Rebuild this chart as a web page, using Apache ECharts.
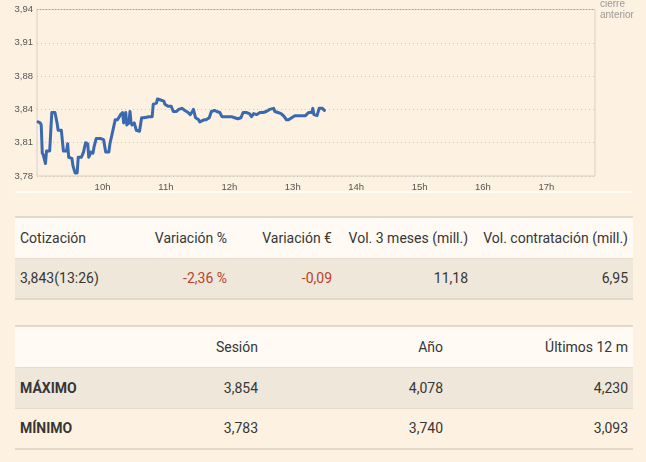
<!DOCTYPE html>
<html>
<head>
<meta charset="utf-8">
<script src="https://cdn.jsdelivr.net/npm/echarts@6/dist/echarts.min.js"></script>
<style>
  html, body { margin: 0; padding: 0; background: #fdf2e2; }
  body { width: 646px; height: 462px; position: relative; overflow: hidden;
         font-family: Roboto, "Noto Sans", sans-serif; color: #363636; }
  #chart { position: absolute; left: 0; top: 0; width: 646px; height: 196px; }
  .sep { position: absolute; left: 15px; top: 191px; width: 617px; height: 2px; background: #fffaf3; }
  table { position: absolute; left: 15px; width: 618px; border-collapse: collapse;
          table-layout: fixed; font-size: 14px; }
  td { height: 41px; padding: 0 5px; vertical-align: middle; white-space: nowrap; box-sizing: border-box; }
  tr.head td { background: #fffaf4; }
  tr.dark td { background: #efe7da; border-top: 1px solid #e6dccd; }
  tr.light td { background: #fdf2e2; border-top: 1px solid #e6dccd; }
  table { border-top: 2px solid #e2d9cc; border-bottom: 2px solid #e2d9cc; }
  .r { text-align: right; }
  .neg { color: #b5452b; }
  .b { font-weight: bold; }
</style>
</head>
<body>
<div id="chart"></div>
<div class="sep"></div>
<table id="t1" style="top:216px">
  <colgroup><col style="width:115px"><col style="width:102px"><col style="width:105px"><col style="width:136px"><col style="width:160px"></colgroup>
</table>
<table id="t2" style="top:325px">
  <colgroup><col style="width:120px"><col style="width:128px"><col style="width:185px"><col style="width:185px"></colgroup>
</table>
<script>
// intraday quotes (hh:mm, price)
var times = ['08:59','09:01','09:02','09:03','09:04','09:06','09:07','09:10','09:12','09:15',
  '09:17','09:18','09:21','09:23','09:26','09:27','09:28','09:31','09:32','09:34',
  '09:36','09:37','09:40','09:42','09:44','09:46','09:47','09:49','09:51','09:52',
  '09:54','09:58','10:01','10:03','10:06','10:07','10:09','10:10','10:12','10:14',
  '10:16','10:17','10:19','10:20','10:22','10:23','10:25','10:26','10:27','10:28',
  '10:30','10:32','10:35','10:37','10:39','10:44','10:47','10:48','10:51','10:52',
  '10:55','10:58','10:59','11:02','11:05','11:07','11:10','11:12','11:15','11:18',
  '11:21','11:23','11:25','11:26','11:28','11:31','11:32','11:34','11:36','11:38',
  '11:41','11:43','11:46','11:48','11:51','11:53','11:56','12:02','12:05','12:08',
  '12:11','12:13','12:16','12:19','12:21','12:23','12:26','12:29','12:32','12:35',
  '12:38','12:42','12:43','12:46','12:49','12:52','12:54','12:56','12:59','13:02',
  '13:07','13:12','13:15','13:18','13:19','13:20','13:23','13:24','13:25','13:28','13:30'];
var prices = [3.832,3.831,3.829,3.802,3.800,3.792,3.804,3.804,3.841,3.841,
  3.831,3.824,3.824,3.804,3.804,3.811,3.798,3.797,3.790,3.783,
  3.783,3.798,3.798,3.803,3.812,3.811,3.798,3.803,3.802,3.808,
  3.816,3.816,3.815,3.803,3.803,3.811,3.820,3.821,3.834,3.834,
  3.837,3.839,3.841,3.831,3.841,3.829,3.831,3.842,3.831,3.829,
  3.831,3.824,3.823,3.836,3.836,3.837,3.837,3.849,3.850,3.854,
  3.853,3.852,3.849,3.847,3.847,3.842,3.842,3.844,3.845,3.843,
  3.841,3.839,3.842,3.844,3.836,3.834,3.832,3.833,3.834,3.834,
  3.836,3.842,3.843,3.842,3.841,3.837,3.837,3.837,3.836,3.835,
  3.836,3.841,3.841,3.840,3.837,3.840,3.839,3.841,3.841,3.842,
  3.844,3.845,3.842,3.841,3.840,3.837,3.834,3.834,3.836,3.838,
  3.838,3.838,3.841,3.841,3.845,3.839,3.838,3.838,3.845,3.845,3.843];
var prevClose = 3.936;
var hourTicks = [10, 11, 12, 13, 14, 15, 16, 17];
var yMin = 3.78, yMax = 3.94, yStep = 0.032;

// tables
var quoteHead = ['Cotización', 'Variación %', 'Variación €', 'Vol. 3 meses (mill.)', 'Vol. contratación (mill.)'];
var quoteRow = ['3,843(13:26)', '-2,36 %', '-0,09', '11,18', '6,95'];
var rangeHead = ['', 'Sesión', 'Año', 'Últimos 12 m'];
var rangeMax = ['MÁXIMO', '3,854', '4,078', '4,230'];
var rangeMin = ['MÍNIMO', '3,783', '3,740', '3,093'];

function toMin(t) {
  var p = t.split(':');
  return parseInt(p[0], 10) * 60 + parseInt(p[1], 10);
}

function addRow(table, cells, cls, negCols, boldFirst) {
  var tr = document.createElement('tr');
  tr.className = cls;
  cells.forEach(function (c, i) {
    var td = document.createElement('td');
    td.textContent = c;
    var k = [];
    if (i > 0) k.push('r');
    if (negCols && negCols.indexOf(i) >= 0) k.push('neg');
    if (boldFirst && i === 0) k.push('b');
    td.className = k.join(' ');
    tr.appendChild(td);
  });
  table.appendChild(tr);
}

var t1 = document.getElementById('t1');
addRow(t1, quoteHead, 'head');
addRow(t1, quoteRow, 'dark', [1, 2]);
var t2 = document.getElementById('t2');
addRow(t2, rangeHead, 'head');
addRow(t2, rangeMax, 'dark', null, true);
addRow(t2, rangeMin, 'light', null, true);

var chart = echarts.init(document.getElementById('chart'));
chart.setOption({
  animation: false,
  grid: {
    left: 37, top: 9.5, width: 558, height: 166.5,
    show: true, borderColor: '#d9d0c2', borderWidth: 1,
    outerBoundsMode: 'none'
  },
  xAxis: {
    type: 'value',
    min: toMin('08:58'),
    max: toMin('17:46'),
    axisLine: { show: false },
    axisTick: { show: false },
    splitLine: { show: false },
    axisLabel: {
      customValues: hourTicks.map(function (h) { return h * 60; }),
      formatter: function (v) { return Math.round(v / 60) + 'h'; },
      color: '#555',
      fontSize: 9.5,
      fontFamily: 'Liberation Sans, Arial, sans-serif',
      margin: 6
    }
  },
  yAxis: {
    type: 'value',
    min: yMin, max: yMax, interval: yStep,
    axisLine: { show: false },
    axisTick: { show: false },
    axisLabel: {
      formatter: function (v) { return v.toFixed(2).replace('.', ','); },
      color: '#555',
      fontSize: 9.5,
      fontFamily: 'Liberation Sans, Arial, sans-serif',
      margin: 4
    },
    splitLine: { show: true, lineStyle: { color: '#cfc6b8', type: [1, 3] } }
  },
  series: [{
    type: 'line',
    data: times.map(function (t, i) { return [toMin(t), prices[i]]; }),
    showSymbol: false,
    lineStyle: { color: '#3a69b0', width: 3, cap: 'round', join: 'round' },
    markLine: {
      silent: true,
      symbol: 'none',
      data: [{ yAxis: prevClose }],
      lineStyle: { color: '#a8a094', type: [1, 2], width: 1 },
      label: {
        show: true, position: 'end', distance: 5,
        formatter: 'cierre\nanterior',
        color: '#999', fontSize: 10, lineHeight: 11.5,
        fontFamily: 'Liberation Sans, Arial, sans-serif'
      }
    }
  }]
});
</script>
</body>
</html>
